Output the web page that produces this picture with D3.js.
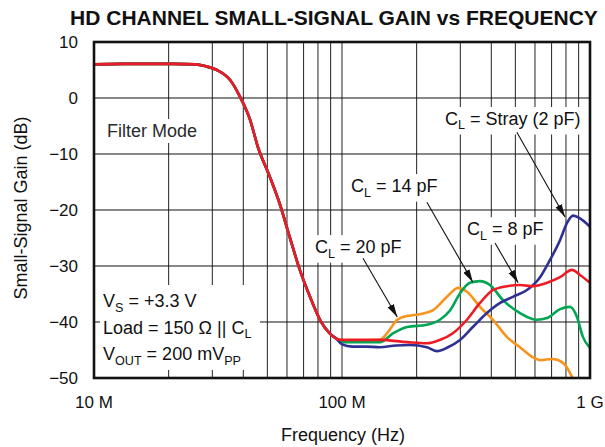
<!DOCTYPE html>
<html>
<head>
<meta charset="utf-8">
<script src="https://cdn.jsdelivr.net/npm/d3@7"></script>
<style>
  html, body { margin: 0; padding: 0; background: #fff; }
  svg { display: block; font-family: "Liberation Sans", Arial, Helvetica, sans-serif; }
</style>
</head>
<body>
<svg id="chart" width="605" height="447"></svg>
<script>
// ---------------- DATA (frequency in MHz, gain in dB) ----------------
const commonLowpass = [
  [10, 6.0], [13, 6.1], [17, 6.1], [21, 6.1], [25.6, 6.0], [28, 5.7], [31.3, 5.0],
  [35.4, 3.2], [38.8, 0.2], [42.6, -3.9], [45.8, -8.75], [51.3, -14.2], [56, -18.8],
  [61.7, -25], [67.6, -30.7], [74.3, -35.5], [81.5, -39.6], [89, -42], [95, -43]
];
const strayHF = [ // C_L = Stray (2 pF), blue
  [100, -44.0], [110, -44.4], [125, -44.4], [142, -44.5], [165, -44.2], [188, -44.1],
  [220, -44.5], [242, -45.2], [265, -44.6], [299, -43.2], [337, -40.9], [384, -38.4],
  [434, -36.6], [489, -35.5], [557, -34.3], [629, -32], [690, -28.9], [757, -25.4],
  [808, -22.3], [854, -21], [911, -21.5], [1000, -23]
];
const cl8HF = [ // C_L = 8 pF, red
  [100, -43.2], [142, -43.2], [183, -43.6], [220, -43.8], [248, -43.2], [280, -42],
  [319, -39.6], [360, -36.6], [406, -34.3], [463, -33.6], [522, -33.4], [589, -33.6],
  [671, -33], [757, -32], [846, -30.7], [911, -31.6], [1000, -33]
];
const cl14HF = [ // C_L = 14 pF, green
  [100, -43.6], [142, -43.6], [161, -42], [183, -40.9], [220, -40.5], [248, -39.6],
  [273, -37.9], [299, -34.9], [328, -33], [360, -32.7], [395, -33.4], [446, -36.1],
  [522, -38.4], [611, -39.6], [671, -39.3], [757, -37.7], [831, -37.3], [886, -39.1],
  [937, -42.7], [1000, -44.6]
];
const cl20HF = [ // C_L = 20 pF, orange
  [100, -43.4], [142, -43.2], [152, -42], [167, -39.6], [176, -39.1], [206, -38.6],
  [233, -37.9], [265, -35.5], [294, -33.9], [319, -34.6], [360, -37.3], [406, -39.6],
  [463, -42.7], [522, -44.5], [589, -46.3], [629, -46.8], [709, -46.6], [778, -47.3],
  [846, -49.8], [870, -51]
];
const seriesNames = ["CL = 20 pF", "CL = 14 pF", "CL = Stray (2 pF)", "CL = 8 pF"];
const seriesColors = ["#f7941d", "#00a651", "#2e3192", "#ed1c24"];
const seriesHF = [cl20HF, cl14HF, strayHF, cl8HF];

const xTickValues = [10, 100, 1000];
const xTickLabels = ["10 M", "100 M", "1 G"];
const yTickValues = [10, 0, -10, -20, -30, -40, -50];

// annotations: label segments, text anchor (MHz, dB), arrow from -> to (MHz, dB)
const annotations = [
  { seg: [["C"], ["L", 1], [" = Stray (2 pF)"]], at: [260, -4.82], from: [507, -6.1], to: [793, -21.25] },
  { seg: [["C"], ["L", 1], [" = 14 pF"]], at: [108.7, -16.8], from: [220, -18.6], to: [337, -32.9] },
  { seg: [["C"], ["L", 1], [" = 8 pF"]], at: [319, -24.5], from: [414, -25.9], to: [513, -33.0] },
  { seg: [["C"], ["L", 1], [" = 20 pF"]], at: [77.8, -27.7], from: [121.5, -28.6], to: [167, -39.1] }
];
const conditionLines = [
  [["V"], ["S", 1], [" = +3.3 V"]],
  [["Load = 150 Ω || C"], ["L", 1]],
  [["V"], ["OUT", 1], [" = 200 mV"], ["PP", 1]]
];

// ---------------- LAYOUT ----------------
const L = 94, R = 590, T = 42, B = 378;
const svg = d3.select("#chart");
const x = d3.scaleLog().domain([10, 1000]).range([L, R]);
const y = d3.scaleLinear().domain([-50, 10]).range([B, T]);
const ink = "#111";

// title
svg.append("text").attr("x", 334).attr("y", 25).attr("text-anchor", "middle")
  .attr("font-size", 21).attr("font-weight", "bold").attr("fill", ink)
  .text("HD CHANNEL SMALL-SIGNAL GAIN vs FREQUENCY");

// grid
const grid = svg.append("g");
const vTicks = x.ticks().filter(v => v > 10 && v < 1000);
grid.selectAll("line.v").data(vTicks).join("line")
  .attr("x1", d => x(d)).attr("x2", d => x(d)).attr("y1", T).attr("y2", B)
  .attr("stroke", "#222").attr("stroke-width", 1);
grid.selectAll("line.h").data(yTickValues.filter(v => v < 10 && v > -50)).join("line")
  .attr("x1", L).attr("x2", R).attr("y1", d => y(d)).attr("y2", d => y(d))
  .attr("stroke", "#111").attr("stroke-width", 1);

// helper for rich text
function rich(g, segs, px, py, size) {
  const t = g.append("text").attr("x", px).attr("y", py).attr("font-size", size).attr("fill", ink);
  let sub = false;
  segs.forEach(s => {
    const ts = t.append("tspan").text(s[0]);
    if (s[1] && !sub) { ts.attr("font-size", size * 0.7).attr("dy", 4.5); sub = true; }
    else if (!s[1] && sub) { ts.attr("dy", -4.5); sub = false; }
    else if (s[1]) { ts.attr("font-size", size * 0.7); }
  });
  return t;
}
function whiteBehind(g, t, pad) {
  const bb = t.node().getBBox();
  g.insert("rect", "text").attr("x", bb.x - pad).attr("y", bb.y - pad + 1)
    .attr("width", bb.width + 2 * pad).attr("height", bb.height + 2 * pad - 2).attr("fill", "#fff");
}

// Filter Mode label
const fm = svg.append("g");
const fmt = fm.append("text").attr("x", 107).attr("y", 137).attr("font-size", 18).attr("fill", "#2a2a2a").text("Filter Mode");
whiteBehind(fm, fmt, 3);

// conditions box
const cond = svg.append("g");
cond.append("rect").attr("x", 100).attr("y", 285).attr("width", 160).attr("height", 85).attr("fill", "#fff");
conditionLines.forEach((segs, i) => rich(cond, segs, 103, 307 + i * 26.5, 18));

// curves
const clipId = "plotclip";
svg.append("clipPath").attr("id", clipId).append("rect")
  .attr("x", L).attr("y", T).attr("width", R - L).attr("height", B - T);
const line = d3.line().x(d => x(d[0])).y(d => y(d[1])).curve(d3.curveMonotoneX);
const curves = svg.append("g").attr("clip-path", `url(#${clipId})`);
seriesHF.forEach((hf, i) => {
  curves.append("path").datum(commonLowpass.concat(hf))
    .attr("d", line).attr("fill", "none").attr("stroke", seriesColors[i])
    .attr("stroke-width", 2.6).attr("stroke-linejoin", "round").attr("stroke-linecap", "round");
});

// annotations
svg.append("defs").append("marker").attr("id", "arrow")
  .attr("markerUnits", "userSpaceOnUse").attr("markerWidth", 13).attr("markerHeight", 8)
  .attr("refX", 13).attr("refY", 4).attr("orient", "auto")
  .append("path").attr("d", "M0,0.5 L13,4 L0,7.5 Z").attr("fill", ink);
const ann = svg.append("g");
annotations.forEach(a => {
  const g = ann.append("g");
  const t = rich(g, a.seg, x(a.at[0]), y(a.at[1]), 18);
  whiteBehind(g, t, 3);
  g.append("line").attr("x1", x(a.from[0])).attr("y1", y(a.from[1]))
    .attr("x2", x(a.to[0])).attr("y2", y(a.to[1]))
    .attr("stroke", ink).attr("stroke-width", 1.1).attr("marker-end", "url(#arrow)");
});

// frame
svg.append("rect").attr("x", L).attr("y", T).attr("width", R - L).attr("height", B - T)
  .attr("fill", "none").attr("stroke", ink).attr("stroke-width", 2.6);

// y tick labels
svg.append("g").selectAll("text").data(yTickValues).join("text")
  .attr("x", 78).attr("y", d => y(d) + 6).attr("text-anchor", "end")
  .attr("font-size", 17).attr("fill", ink)
  .text(d => d < 0 ? "\u2212" + Math.abs(d) : String(d));

// x tick labels
svg.append("g").selectAll("text").data(xTickValues).join("text")
  .attr("x", d => x(d)).attr("y", 408).attr("text-anchor", "middle")
  .attr("font-size", 17).attr("fill", ink)
  .text((d, i) => xTickLabels[i]);

// axis titles
svg.append("text").attr("x", 343).attr("y", 441).attr("text-anchor", "middle")
  .attr("font-size", 18).attr("fill", ink).text("Frequency (Hz)");
svg.append("text").attr("transform", "translate(27,208) rotate(-90)").attr("text-anchor", "middle")
  .attr("font-size", 18).attr("fill", ink).text("Small-Signal Gain (dB)");
</script>
</body>
</html>
